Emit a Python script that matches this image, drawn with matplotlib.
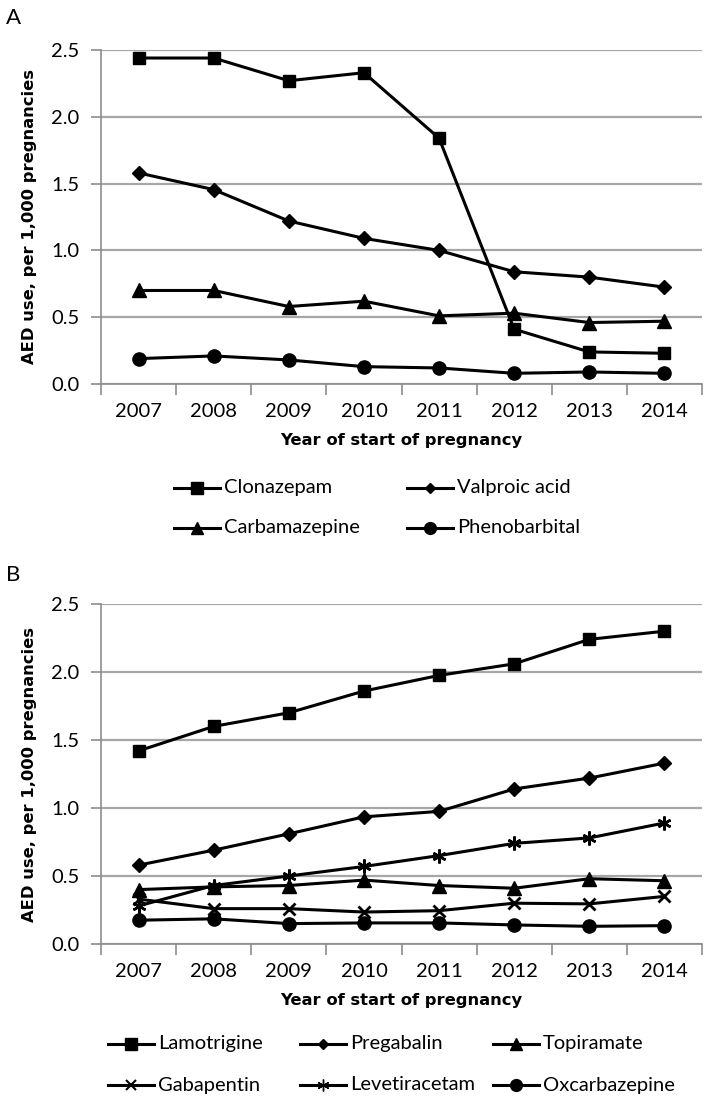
import numpy as np
import matplotlib.pyplot as plt
from matplotlib.lines import Line2D

years = ['2007', '2008', '2009', '2010', '2011', '2012', '2013', '2014']
yticks = [0.0, 0.5, 1.0, 1.5, 2.0, 2.5]

# panel A
clonazepam = [2.44, 2.44, 2.27, 2.33, 1.84, 0.41, 0.24, 0.23]
valproic = [1.58, 1.455, 1.22, 1.09, 1.00, 0.84, 0.80, 0.725]
carbamazepine = [0.70, 0.70, 0.58, 0.62, 0.51, 0.53, 0.46, 0.47]
phenobarbital = [0.19, 0.21, 0.18, 0.13, 0.12, 0.08, 0.09, 0.08]

# panel B
lamotrigine = [1.42, 1.60, 1.70, 1.86, 1.975, 2.06, 2.24, 2.30]
pregabalin = [0.58, 0.69, 0.81, 0.935, 0.975, 1.14, 1.22, 1.33]
topiramate = [0.40, 0.42, 0.43, 0.47, 0.43, 0.41, 0.48, 0.465]
gabapentin = [0.33, 0.26, 0.26, 0.235, 0.245, 0.30, 0.295, 0.35]
levetiracetam = [0.28, 0.43, 0.50, 0.57, 0.65, 0.74, 0.78, 0.89]
oxcarbazepine = [0.175, 0.185, 0.15, 0.155, 0.155, 0.14, 0.13, 0.135]

W, H = 709, 1107
TICK_FONT = 'Lato'
LABEL_FONT = 'DejaVu Sans'
GRID = '#a6a6a6'
SPINE = '#8c8c8c'
STAR = (6, 2, 0)


def style_axes(ax):
    x = np.arange(len(years))
    ax.set_xlim(-0.5, len(years) - 0.5)
    ax.set_ylim(0, 2.5)
    ax.set_yticks(yticks)
    ax.set_yticklabels(['%.1f' % v for v in yticks],
                       fontfamily=TICK_FONT, fontsize=14.5)
    ax.set_xticks(x)
    ax.set_xticklabels(years, fontfamily=TICK_FONT, fontsize=14.5)
    ax.set_xticks(np.arange(len(years) + 1) - 0.5, minor=True)
    ax.tick_params(axis='x', which='major', length=0, pad=14)
    ax.tick_params(axis='x', which='minor', length=8, width=1.2, color=SPINE)
    ax.tick_params(axis='y', length=7, width=1.2, color=SPINE, pad=8.5)
    ax.yaxis.grid(True, color=GRID, linewidth=1.6)
    ax.set_axisbelow(True)
    for s in ['top', 'right']:
        ax.spines[s].set_visible(False)
    for s in ['left', 'bottom']:
        ax.spines[s].set_color(SPINE)
        ax.spines[s].set_linewidth(1.2)
    ax.set_ylabel('AED use, per 1,000 pregnancies', fontfamily=LABEL_FONT,
                  fontweight='bold', fontsize=11.8, labelpad=10)
    ax.set_xlabel('Year of start of pregnancy', fontfamily=LABEL_FONT,
                  fontweight='bold', fontsize=11.8, labelpad=9)


def draw(ax, vals, marker, ms, mew=1.0):
    x = np.arange(len(years))
    ax.plot(x, vals, color='black', linewidth=2.2, marker=marker,
            markersize=ms, markeredgewidth=mew, markerfacecolor='black',
            markeredgecolor='black', clip_on=False)


def legend_entry(fig, x0, y, marker, ms, label, mew=1.0):
    # x0, y in pixels from top-left of the figure
    fx = [x0 / W, (x0 + 46) / W]
    fy = [1 - y / H] * 2
    fig.add_artist(Line2D(fx, fy, color='black', linewidth=2.2,
                          transform=fig.transFigure))
    fig.add_artist(Line2D([(x0 + 23) / W], [1 - y / H], marker=marker,
                          markersize=ms, markeredgewidth=mew, color='black',
                          markerfacecolor='black', linestyle='none',
                          transform=fig.transFigure))
    fig.text((x0 + 50) / W, 1 - y / H, label, fontfamily=TICK_FONT,
             fontsize=14.5, va='center', ha='left')


fig = plt.figure(figsize=(W / 100, H / 100), dpi=100)

axA = fig.add_axes([101 / W, 1 - 384 / H, 601 / W, 334 / H])
draw(axA, clonazepam, 's', 9)
draw(axA, valproic, 'D', 7.5)
draw(axA, carbamazepine, '^', 9.5)
draw(axA, phenobarbital, 'o', 9.5)
style_axes(axA)

axB = fig.add_axes([101 / W, 1 - 944 / H, 601 / W, 340 / H])
draw(axB, lamotrigine, 's', 9)
draw(axB, pregabalin, 'D', 7.5)
draw(axB, topiramate, '^', 9.5)
draw(axB, gabapentin, 'x', 9, mew=2.0)
draw(axB, levetiracetam, STAR, 10, mew=1.8)
draw(axB, oxcarbazepine, 'o', 9.5)
style_axes(axB)

# legend A
legend_entry(fig, 174, 488, 's', 9, 'Clonazepam')
legend_entry(fig, 407, 488, 'D', 5.5, 'Valproic acid')
legend_entry(fig, 174, 528, '^', 8.5, 'Carbamazepine')
legend_entry(fig, 407, 528, 'o', 8.5, 'Phenobarbital')

# legend B
legend_entry(fig, 108, 1044, 's', 9, 'Lamotrigine')
legend_entry(fig, 300, 1044, 'D', 5.5, 'Pregabalin')
legend_entry(fig, 493, 1044, '^', 8.5, 'Topiramate')
legend_entry(fig, 108, 1085, 'x', 7.5, 'Gabapentin', mew=1.5)
legend_entry(fig, 300, 1085, STAR, 8.5, 'Levetiracetam', mew=1.0)
legend_entry(fig, 493, 1085, 'o', 8.5, 'Oxcarbazepine')

fig.text(6 / W, 1 - 18 / H, 'A', fontfamily=TICK_FONT, fontsize=16,
         va='center', ha='left')
fig.text(6 / W, 1 - 575 / H, 'B', fontfamily=TICK_FONT, fontsize=16,
         va='center', ha='left')

fig.savefig('out.png', dpi=100)
